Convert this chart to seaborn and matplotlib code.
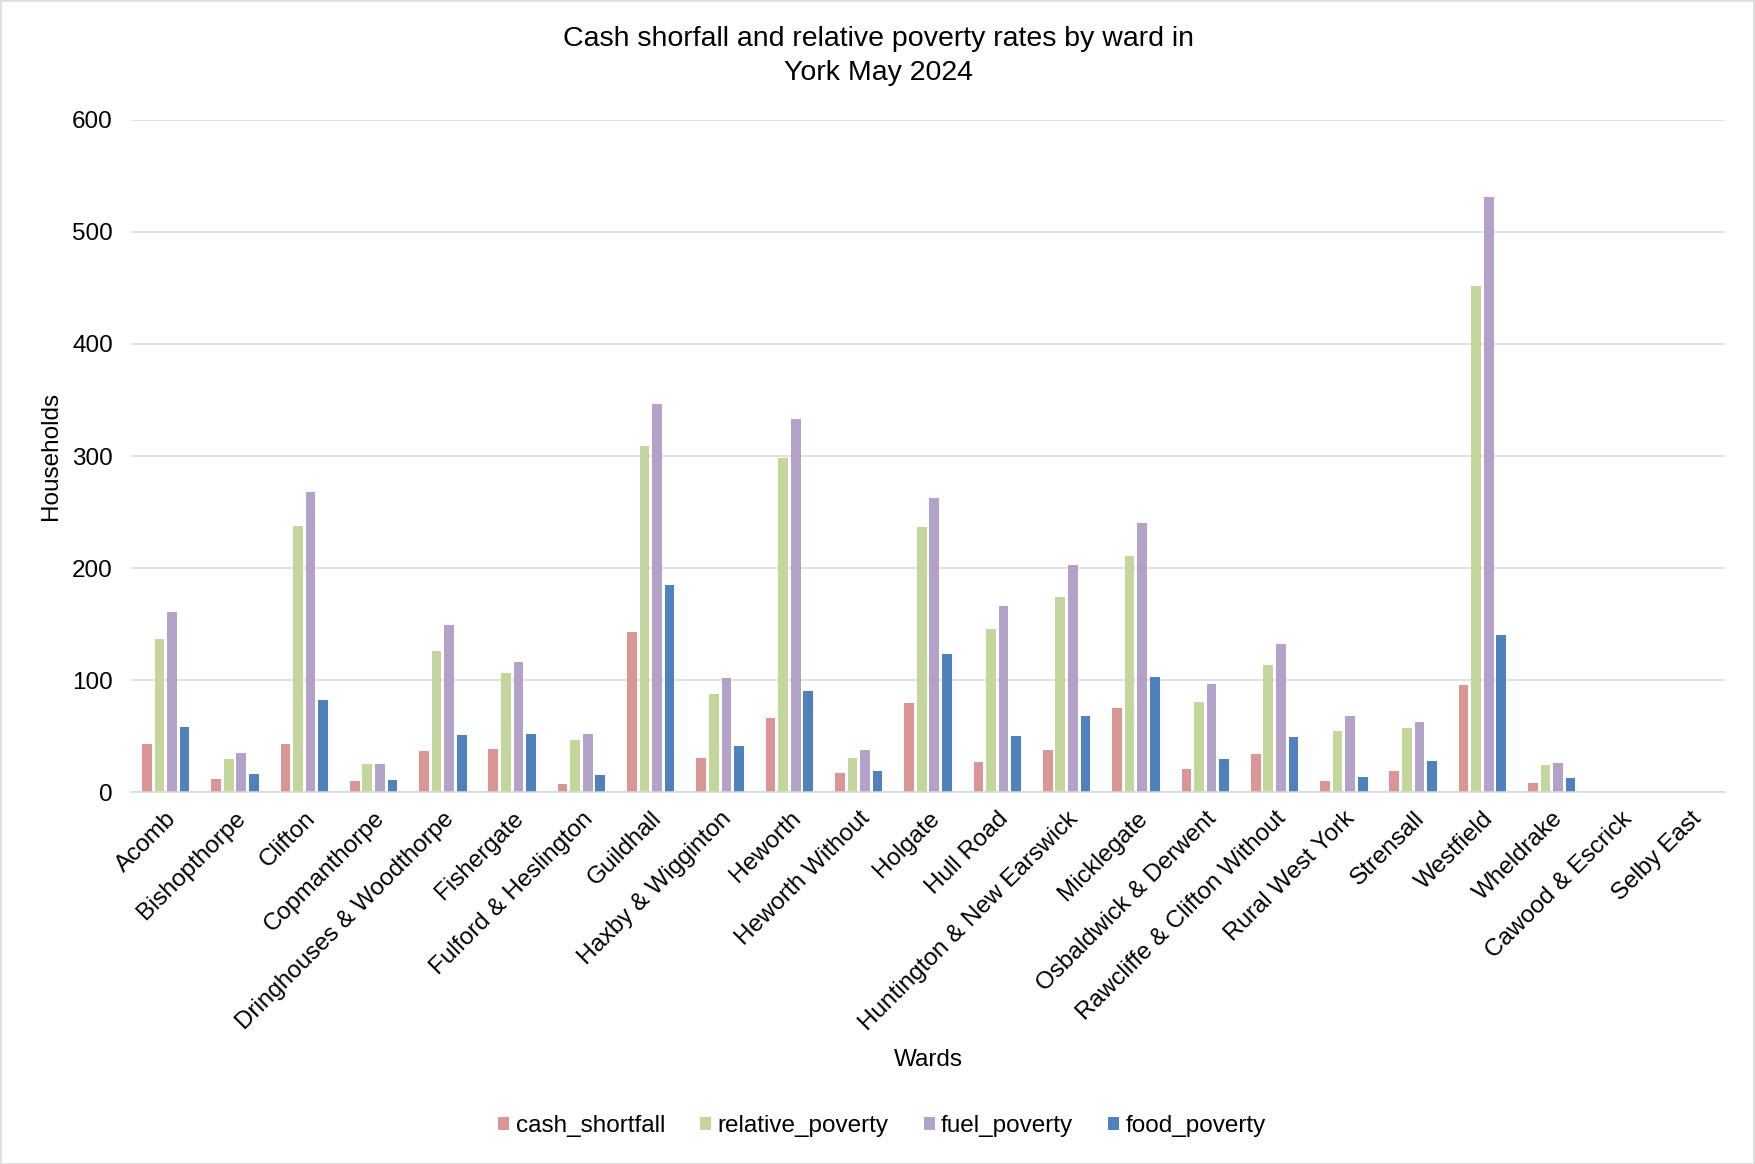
import numpy as np
import pandas as pd
import matplotlib
matplotlib.use("Agg")
import matplotlib.pyplot as plt
from matplotlib.patches import Rectangle
import seaborn as sns

wards = ["Acomb", "Bishopthorpe", "Clifton", "Copmanthorpe", "Dringhouses & Woodthorpe",
         "Fishergate", "Fulford & Heslington", "Guildhall", "Haxby & Wigginton", "Heworth",
         "Heworth Without", "Holgate", "Hull Road", "Huntington & New Earswick", "Micklegate",
         "Osbaldwick & Derwent", "Rawcliffe & Clifton Without", "Rural West York", "Strensall",
         "Westfield", "Wheldrake", "Cawood & Escrick", "Selby East"]
nan = np.nan
cash_shortfall = [43, 12, 43, 10, 37, 39, 7, 143, 31, 66, 17, 80, 27, 38, 75, 21, 34, 10, 19, 96, 8, nan, nan]
relative_poverty = [137, 30, 238, 25, 126, 106, 47, 309, 88, 298, 31, 237, 146, 174, 211, 81, 114, 55, 57, 452, 24, nan, nan]
fuel_poverty = [161, 35, 268, 25, 149, 116, 52, 346, 102, 333, 38, 263, 166, 203, 240, 97, 132, 68, 63, 531, 26, nan, nan]
food_poverty = [58, 16, 82, 11, 51, 52, 15, 185, 41, 90, 19, 123, 50, 68, 103, 30, 49, 14, 28, 140, 13, nan, nan]
series_names = ["cash_shortfall", "relative_poverty", "fuel_poverty", "food_poverty"]
colors = ["#D99694", "#C3D69B", "#B3A2C7", "#4F81BD"]
y_ticks = [0, 100, 200, 300, 400, 500, 600]

wide = pd.DataFrame({"ward": wards, "cash_shortfall": cash_shortfall,
                     "relative_poverty": relative_poverty, "fuel_poverty": fuel_poverty,
                     "food_poverty": food_poverty})
df = wide.melt(id_vars="ward", var_name="series", value_name="households")

sns.set_theme(style="white")
plt.rcParams["font.family"] = ["Liberation Sans", "DejaVu Sans"]
plt.rcParams["text.color"] = "black"

W, H = 1755, 1164
fig = plt.figure(figsize=(W / 100, H / 100), dpi=100)
left, right, top, bottom = 131, 1725, 119.8, 792.3
ax = fig.add_axes([left / W, 1 - bottom / H, (right - left) / W, (bottom - top) / H])

sns.barplot(data=df, x="ward", y="households", hue="series", order=wards,
            hue_order=series_names, palette=colors, width=0.725, gap=0.23,
            saturation=1, errorbar=None, linewidth=0, ax=ax)

ax.set_ylim(0, 600)
ax.set_yticks(y_ticks)
ax.set_xlim(-0.5, len(wards) - 0.5)
ax.yaxis.grid(True, color="#D9D9D9", linewidth=1.1)
ax.set_axisbelow(True)
for s in ["top", "right", "left"]:
    ax.spines[s].set_visible(False)
ax.spines["bottom"].set_color("#D9D9D9")
ax.spines["bottom"].set_linewidth(1.1)

ax.tick_params(axis="y", length=0, pad=13, labelsize=17.5, colors="black")
ax.tick_params(axis="x", length=0, pad=11, labelsize=17.5, colors="black")
plt.setp(ax.get_xticklabels(), rotation=45, ha="right", rotation_mode="anchor")

ax.set_xlabel("Wards", fontsize=17.5, color="black", va="top")
ax.xaxis.set_label_coords((928 - left) / (right - left), -(1049.5 - bottom) / (bottom - top))
ax.set_ylabel("Households", fontsize=17.5, color="black")
ax.yaxis.set_label_coords(-(left - 62) / (right - left), 0.5)

fig.text(0.5006, 1 - 56 / H, "Cash shorfall and relative poverty rates by ward in\nYork May 2024",
         ha="center", va="center", fontsize=20.5, linespacing=1.36, color="black")

sns.move_legend(ax, "center", bbox_to_anchor=((882 - left) / (right - left), -(1126 - bottom) / (bottom - top)),
                ncol=4, frameon=False, title=None, fontsize=17.5,
                handlelength=0.46, handleheight=0.46, handletextpad=0.25, columnspacing=1.45)

fig.patches.append(Rectangle((0.5 / W, 0.5 / H), 1 - 1.5 / W, 1 - 1.5 / H, transform=fig.transFigure,
                             fill=False, edgecolor="#D9D9D9", linewidth=1.2))

fig.savefig("out.png", dpi=100, facecolor="white")
